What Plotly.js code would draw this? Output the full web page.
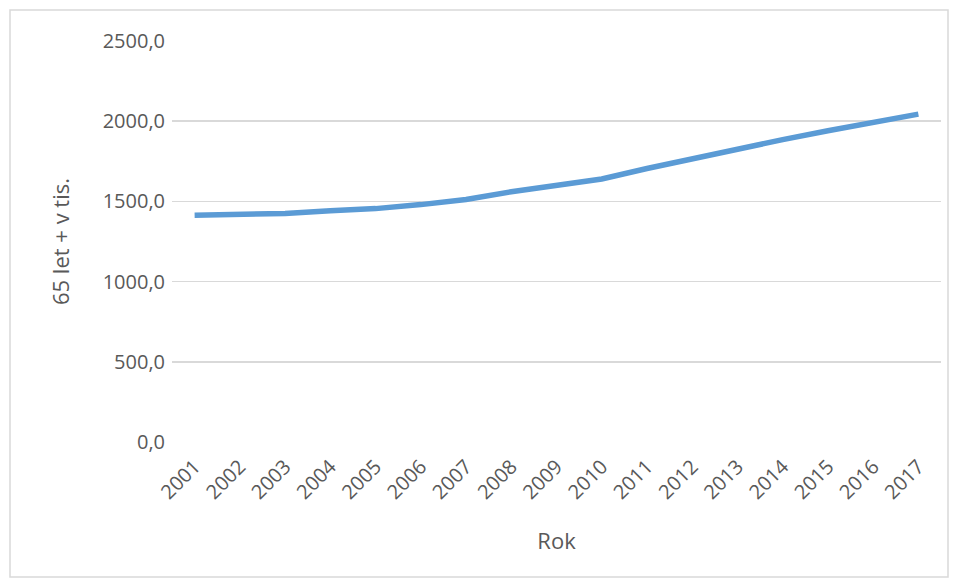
<!DOCTYPE html>
<html>
<head>
<meta charset="utf-8">
<script src="https://cdn.plot.ly/plotly-3.0.1.min.js"></script>
<style>
  html, body { margin: 0; padding: 0; background: #ffffff; }
  #chart { width: 957px; height: 581px; }
</style>
</head>
<body>
<div id="chart"></div>
<script>
// Data
const years = ["2001","2002","2003","2004","2005","2006","2007","2008","2009",
               "2010","2011","2012","2013","2014","2015","2016","2017"];
const seniors = [1414, 1420, 1425, 1442, 1455, 1480, 1512, 1560, 1603,
                 1640, 1705, 1767, 1825, 1885, 1940, 1992, 2044];
const yTickVals = [0, 500, 1000, 1500, 2000, 2500];
const yTickText = ["0,0", "500,0", "1000,0", "1500,0", "2000,0", "2500,0"];

const W = 957, H = 581;
const mL = 172, mR = 16, mT = 41, mB = 139;
const pw = W - mL - mR, ph = H - mT - mB;
const px = v => (v - mL) / pw;
const py = v => (H - mB - v) / ph;

const font = "'Open Sans', 'Noto Sans', sans-serif";
const grey = "#595959";

const trace = {
  x: years,
  y: seniors,
  type: "scatter",
  mode: "lines",
  line: { color: "#5B9BD5", width: 5.5 },
  hoverinfo: "x+y"
};

const layout = {
  width: W, height: H,
  margin: { l: mL, r: mR, t: mT, b: mB, pad: 0 },
  paper_bgcolor: "#ffffff",
  plot_bgcolor: "#ffffff",
  showlegend: false,
  font: { family: font, color: grey },
  xaxis: {
    type: "category",
    range: [-0.5, years.length - 0.5],
    tickangle: -45,
    tickfont: { family: font, size: 20, color: grey },
    showgrid: false,
    showline: false,
    zeroline: false,
    ticks: "outside",
    ticklen: 4,
    tickcolor: "rgba(0,0,0,0)",
    automargin: false,
    title: { text: "Rok", font: { family: font, size: 22, color: grey }, standoff: 29 }
  },
  yaxis: {
    range: [0, 2500],
    tickvals: yTickVals,
    ticktext: yTickText,
    tickfont: { family: font, size: 20, color: grey },
    showgrid: true,
    gridcolor: "#d9d9d9",
    gridwidth: 1.5,
    zeroline: false,
    showline: false,
    ticks: "outside",
    ticklen: 2,
    tickcolor: "rgba(0,0,0,0)",
    automargin: false,
    title: { text: "65 let + v tis.", font: { family: font, size: 22, color: grey }, standoff: 26 }
  },
  shapes: [{
    type: "rect", xref: "paper", yref: "paper",
    x0: px(10), x1: px(948), y0: py(577), y1: py(10),
    line: { color: "#d9d9d9", width: 1.5 },
    fillcolor: "rgba(0,0,0,0)",
    layer: "below"
  }]
};

Plotly.newPlot("chart", [trace], layout, { displayModeBar: false, staticPlot: true });
</script>
</body>
</html>
